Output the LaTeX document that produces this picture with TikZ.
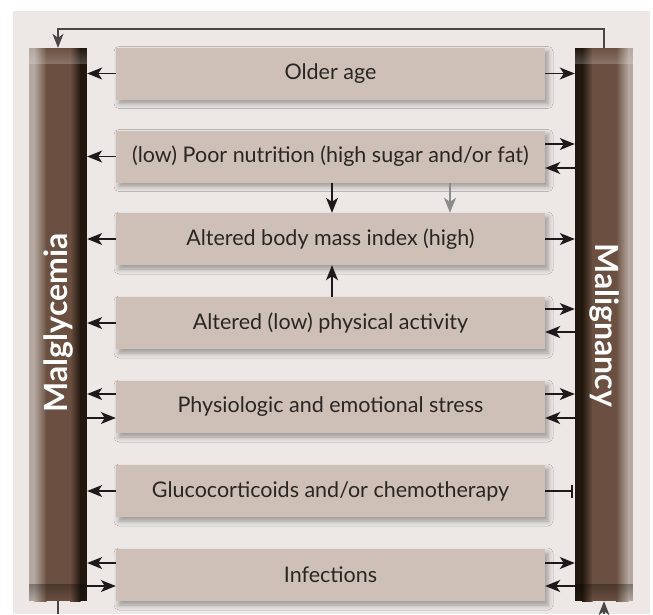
\documentclass[tikz,border=0pt]{standalone}
\usepackage{fontspec}
\setmainfont{Lato}
\newfontfamily\barfont{Lato}
\usetikzlibrary{arrows.meta,shadows.blur,fadings}
\definecolor{bgc}{HTML}{EDE8E5}
\definecolor{boxc}{HTML}{CEC0B6}
\definecolor{txtc}{HTML}{2A2624}
\definecolor{arrc}{HTML}{1E1A1B}
\definecolor{loopc}{HTML}{4A4646}
\definecolor{grayarr}{HTML}{8C8C8E}
\definecolor{barlight}{HTML}{B4A8A0}
\definecolor{barbrown}{HTML}{6B5041}
\definecolor{bardark}{HTML}{21170F}
\tikzset{
  factor/.style={fill=boxc, minimum width=429pt, minimum height=52pt, inner sep=0pt,
    text=txtc, font=\fontsize{21.5}{24}\selectfont,
    blur shadow={shadow xshift=3pt, shadow yshift=-4pt, shadow blur radius=5pt, shadow opacity=35}},
  bar/.style={minimum width=58pt, minimum height=553pt, inner sep=0pt},
  bartext/.style={text=white, font=\barfont\bfseries\fontsize{32}{36}\selectfont},
  arr/.style={draw=arrc, line width=1.3pt, -{Stealth[length=15pt,width=12pt,inset=4pt]}},
  grayarrow/.style={draw=grayarr, line width=1.3pt, -{Stealth[length=15pt,width=12pt,inset=4pt]}},
  inhib/.style={draw=arrc, line width=1.8pt, -{Bar[width=13pt,line width=1.8pt]}},
  loopline/.style={draw=loopc, line width=1.1pt},
}
\begin{document}
\begin{tikzpicture}[x=1pt,y=-1pt]
\useasboundingbox (0,0) rectangle (653,614);
\fill[bgc] (13,11) rectangle (650,614);
% bars (named nodes for connectors)
\node[bar] (lbar) at (58,324.5) {};
\node[bar] (rbar) at (604,324.5) {};
% left bar shading in stripes
\fill[barlight] (29,48) rectangle (34.5,601);
\shade[left color=barlight, right color=barbrown] (34,48) rectangle (46.5,601);
\fill[barbrown] (46,48) rectangle (70.5,601);
\shade[left color=barbrown, right color=bardark] (70,48) rectangle (80.5,601);
\fill[bardark] (80,48) rectangle (87,601);
% right bar shading in stripes
\fill[bardark] (575,48) rectangle (582.5,601);
\shade[left color=bardark, right color=barbrown] (582,48) rectangle (592.5,601);
\fill[barbrown] (592,48) rectangle (616.5,601);
\shade[left color=barbrown, right color=barlight] (616,48) rectangle (628.5,601);
\fill[barlight] (628,48) rectangle (633,601);
% top highlights / bottom shade
\fill[white, path fading=north, fill opacity=0.22] (29,48) rectangle (87,64);
\fill[white, path fading=north, fill opacity=0.22] (575,48) rectangle (633,64);
\fill[black, path fading=south, fill opacity=0.3] (29,584) rectangle (87,601);
\fill[black, path fading=south, fill opacity=0.3] (575,584) rectangle (633,601);
\node[bartext, rotate=90] (lbl) at (58,323) {Malglycemia};
\node[bartext, rotate=-90] (rbl) at (604,325) {Malignancy};
% factor boxes
\node[factor] (b1) at (330.5,73.5) {Older age};
\node[factor] (b2) at (330.5,156.5) {(low) Poor nutrition (high sugar and/or fat)};
\node[factor] (b3) at (330.5,239) {Altered body mass index (high)};
\node[factor] (b4) at (330.5,323) {Altered (low) physical activity};
\node[factor] (b5) at (330.5,407) {Physiologic and emotional stress};
\node[factor] (b6) at (330.5,491) {Glucocorticoids and/or chemotherapy};
\node[factor] (b7) at (330.5,575) {Infections};
% loop coordinates
\coordinate (toploop) at (330,29);
\coordinate (botL) at (58,614);
\coordinate (botR) at (604,614);
% older age
\draw[arr] (b1.west) -- (b1.west -| lbar.east);
\draw[arr] (b1.east) -- (b1.east -| rbar.west);
% nutrition
\draw[arr] (b2.west) -- (b2.west -| lbar.east);
\draw[arr] ([yshift=12.5pt]b2.east) -- ([yshift=12.5pt]b2.east -| rbar.west);
\draw[arr] ([yshift=-11.5pt]b2.east -| rbar.west) -- ([yshift=-11.5pt]b2.east);
\draw[arr] ([xshift=1.5pt]b2.south) -- ([xshift=1.5pt]b3.north);
\draw[grayarrow] ([xshift=119.5pt]b2.south) -- ([xshift=119.5pt]b3.north);
% BMI
\draw[arr] (b3.west) -- (b3.west -| lbar.east);
\draw[arr] (b3.east) -- (b3.east -| rbar.west);
% activity
\draw[arr] ([xshift=1.5pt]b4.north) -- ([xshift=1.5pt]b3.south);
\draw[arr] (b4.west) -- (b4.west -| lbar.east);
\draw[arr] ([yshift=14pt]b4.east) -- ([yshift=14pt]b4.east -| rbar.west);
\draw[arr] ([yshift=-9pt]b4.east -| rbar.west) -- ([yshift=-9pt]b4.east);
% stress
\draw[arr] ([yshift=13pt]b5.west) -- ([yshift=13pt]b5.west -| lbar.east);
\draw[arr] ([yshift=-11pt]b5.west -| lbar.east) -- ([yshift=-11pt]b5.west);
\draw[arr] ([yshift=13pt]b5.east) -- ([yshift=13pt]b5.east -| rbar.west);
\draw[arr] ([yshift=-11pt]b5.east -| rbar.west) -- ([yshift=-11pt]b5.east);
% glucocorticoids
\draw[arr] (b6.west) -- (b6.west -| lbar.east);
\draw[inhib] (b6.east) -- ([xshift=-2pt]b6.east -| rbar.west);
% infections
\draw[arr] ([yshift=12pt]b7.west) -- ([yshift=12pt]b7.west -| lbar.east);
\draw[arr] ([yshift=-11pt]b7.west -| lbar.east) -- ([yshift=-11pt]b7.west);
\draw[arr] ([yshift=12pt]b7.east) -- ([yshift=12pt]b7.east -| rbar.west);
\draw[arr] ([yshift=-11pt]b7.east -| rbar.west) -- ([yshift=-11pt]b7.east);
% feedback loop
\draw[loopline, -{Stealth[length=14pt,width=11pt,inset=4pt]}] (rbar.north) |- (toploop) -| (lbar.north);
\draw[loopline] (lbar.south) -- (botL);
\draw[loopline, -{Stealth[length=14pt,width=11pt,inset=4pt]}] (botR) -- (rbar.south);
\end{tikzpicture}
\end{document}
